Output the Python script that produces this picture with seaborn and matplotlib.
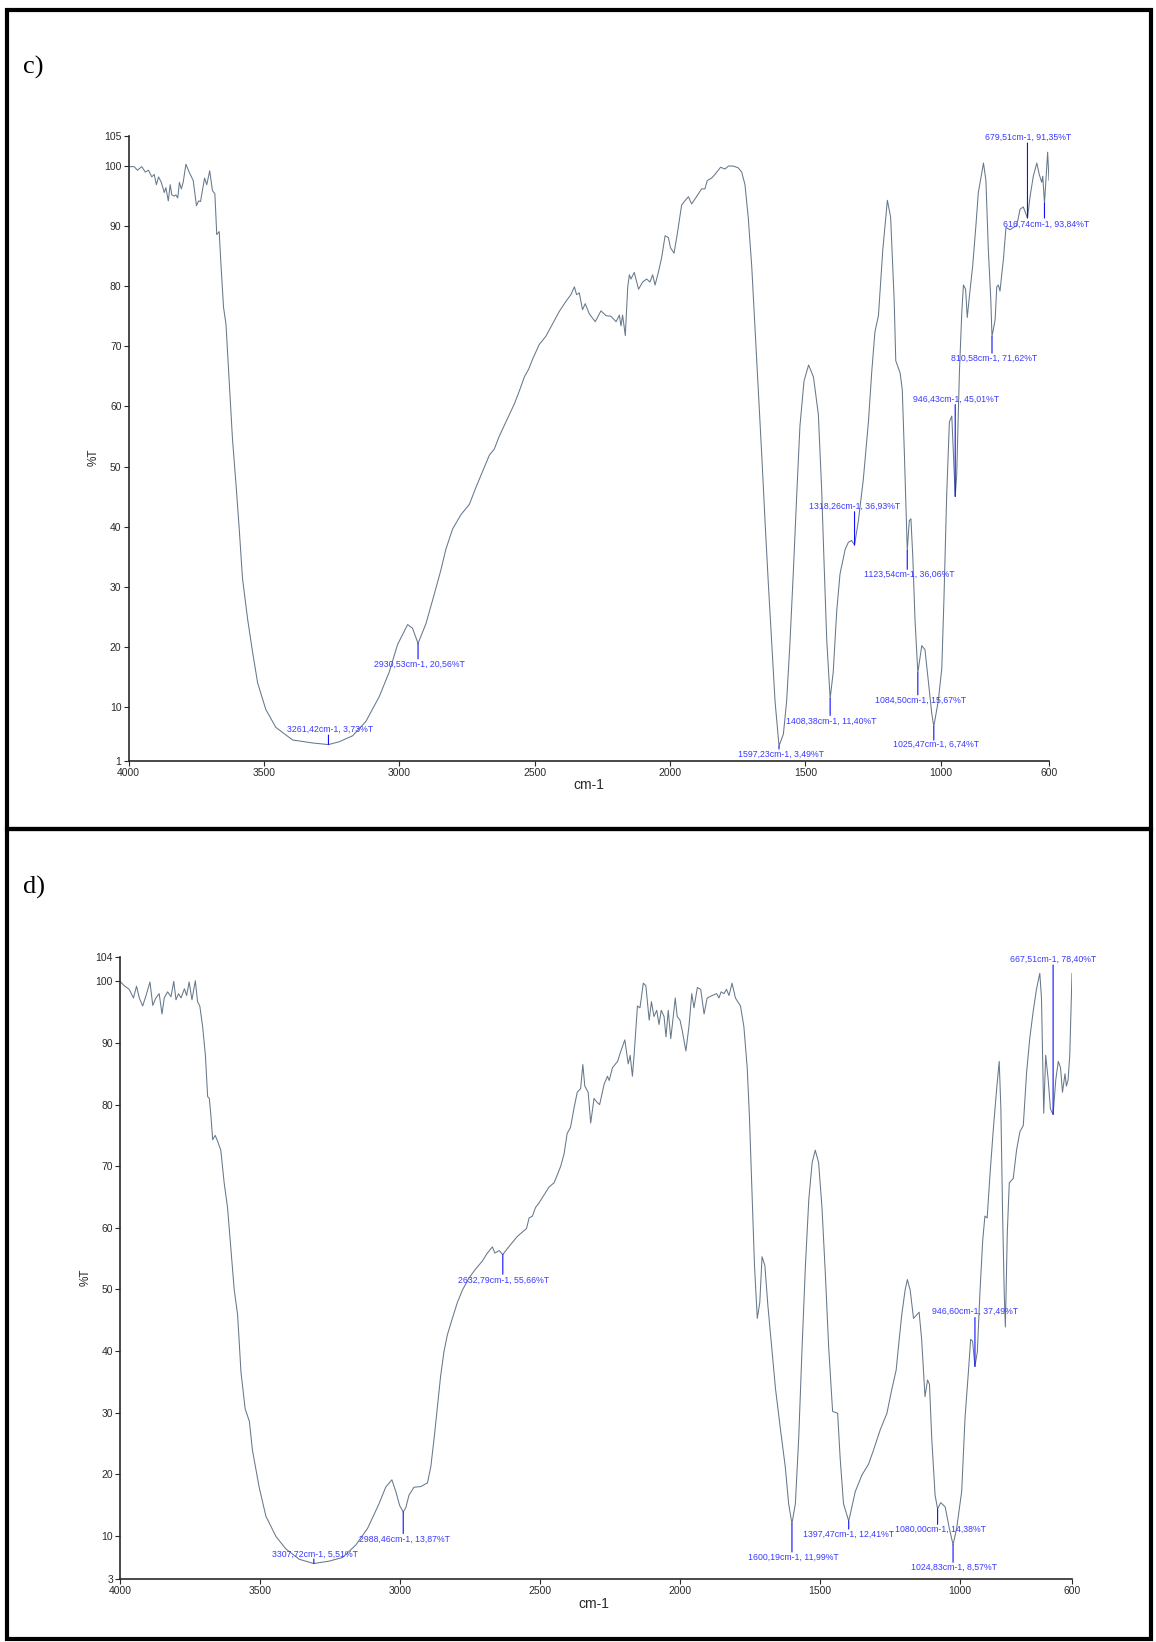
import matplotlib
matplotlib.use("Agg")
import matplotlib.pyplot as plt
from matplotlib.patches import Rectangle
import pandas as pd
import seaborn as sns

# ---------------- spectrum c) ----------------
wn_c = [4000, 3979, 3967, 3951, 3938, 3926, 3914, 3905, 3897, 3889, 3879, 3868, 3862, 3853,
        3846, 3840, 3831, 3825, 3818, 3812, 3805, 3798, 3788, 3776, 3761, 3749, 3741, 3734,
        3719, 3711, 3700, 3690, 3681, 3674, 3665, 3659, 3649, 3640, 3628, 3616, 3603, 3591,
        3579, 3560, 3542, 3523, 3493, 3456, 3394, 3320, 3261.42, 3222, 3172, 3123, 3074, 3037,
        3006, 2969, 2951, 2930.53, 2901, 2871, 2846, 2828, 2803, 2772, 2741, 2717, 2692, 2667,
        2649, 2631, 2600, 2575, 2557, 2538, 2522, 2507, 2483, 2458, 2434, 2409, 2384, 2366,
        2353, 2345, 2335, 2323, 2313, 2298, 2276, 2255, 2236, 2218, 2199, 2187, 2181, 2175,
        2165, 2156, 2150, 2144, 2132, 2116, 2101, 2086, 2074, 2064, 2055, 2043, 2031, 2018,
        2006, 1998, 1985, 1973, 1957, 1945, 1932, 1920, 1908, 1895, 1883, 1871, 1862, 1846,
        1834, 1813, 1797, 1784, 1766, 1748, 1735, 1723, 1711, 1698, 1686, 1674, 1661, 1649,
        1637, 1624, 1612, 1600, 1597.23, 1581, 1569, 1557, 1544, 1532, 1520, 1505, 1488, 1470,
        1452, 1440, 1431, 1421, 1408.38, 1397, 1384, 1372, 1353, 1341, 1329, 1318.26, 1304,
        1286, 1267, 1255, 1243, 1230, 1214, 1197, 1185, 1172, 1166, 1150, 1142, 1134, 1126,
        1123.54, 1116, 1110, 1103, 1095, 1084.50, 1070, 1058, 1046, 1033, 1025.47, 1009, 996,
        988, 978, 968, 959, 953, 946.43, 941, 931, 922, 916, 908, 902, 892, 882, 870, 861, 842,
        833, 824, 815, 810.58, 799, 793, 787, 781, 768, 759, 744, 731, 719, 707, 695, 679.51,
        670, 658, 645, 636, 627, 623, 616.74, 605, 600]
t_c = [99.9, 99.9, 99.3, 99.9, 99.0, 99.3, 98.2, 98.6, 96.9, 98.2, 97.3, 95.6, 96.4, 94.2,
       96.9, 95.2, 95.0, 95.2, 94.7, 97.3, 96.2, 97.3, 100.3, 99.0, 97.6, 93.4, 94.2, 94.1,
       98.0, 96.9, 99.2, 95.9, 95.4, 88.6, 89.1, 84.0, 76.5, 73.7, 64.2, 54.6, 47.1, 39.6,
       31.4, 24.6, 19.2, 14.0, 9.6, 6.6, 4.5, 4.0, 3.73, 4.2, 5.2, 7.6, 11.7, 15.8,
       20.4, 23.7, 23.1, 20.56, 23.9, 28.7, 32.8, 36.2, 39.6, 42.0, 43.7, 46.5, 49.2, 51.9,
       52.9, 55.0, 58.0, 60.4, 62.5, 64.9, 66.2, 67.9, 70.3, 71.7, 73.7, 75.8, 77.5, 78.6,
       79.9, 78.6, 78.9, 76.1, 77.1, 75.4, 74.1, 75.9, 75.1, 75.0, 74.1, 75.2, 73.4, 75.2,
       71.8, 79.9, 81.9, 81.2, 82.3, 79.5, 80.7, 81.2, 80.7, 81.9, 80.2, 82.3, 84.7, 88.4,
       88.1, 86.4, 85.5, 88.7, 93.5, 94.2, 94.9, 93.7, 94.5, 95.4, 96.2, 96.2, 97.6, 98.0,
       98.6, 99.8, 99.5, 100.0, 100.0, 99.7, 99.0, 96.9, 91.5, 83.3, 73.1, 62.8, 51.9, 41.0,
       30.8, 20.5, 11.0, 4.8, 3.49, 5.5, 11.0, 20.5, 32.8, 45.1, 56.7, 64.2, 66.9, 64.9,
       58.7, 46.5, 34.2, 21.2, 11.40, 15.8, 26.0, 32.1, 36.2, 37.4, 37.7, 36.93, 41.0,
       47.8, 57.4, 65.6, 72.4, 75.1, 86.0, 94.3, 91.5, 77.8, 67.6, 65.6, 62.8, 51.9, 39.6,
       36.06, 41.0, 41.3, 34.9, 24.6, 15.67, 20.2, 19.5, 14.4, 8.9, 6.74, 11.0, 16.4,
       28.0, 45.1, 57.4, 58.4, 51.9, 45.01, 48.5, 65.6, 75.8, 80.2, 79.5, 74.8, 79.2, 83.3,
       90.1, 95.6, 100.5, 97.6, 86.0, 77.8, 71.62, 74.4, 79.9, 80.2, 79.2, 84.7, 89.8, 89.4,
       89.8, 90.1, 92.8, 93.2, 91.35, 94.9, 98.3, 100.5, 98.6, 97.3, 98.3, 93.84, 102.3, 97.6]

peak_wn_c = [3261.42, 2930.53, 1597.23, 1408.38, 1318.26, 1123.54, 1084.50, 1025.47,
             946.43, 810.58, 679.51, 616.74]
peak_t_c = [3.73, 20.56, 3.49, 11.40, 36.93, 36.06, 15.67, 6.74, 45.01, 71.62, 91.35, 93.84]

# ---------------- spectrum d) ----------------
wn_d = [4000, 3985, 3967, 3952, 3941, 3931, 3919, 3907, 3893, 3883, 3872, 3860, 3850, 3842,
        3830, 3818, 3808, 3800, 3791, 3782, 3770, 3762, 3753, 3743, 3731, 3723, 3715, 3705,
        3695, 3687, 3681, 3675, 3669, 3660, 3651, 3640, 3628, 3616, 3604, 3592, 3580, 3568,
        3553, 3538, 3527, 3503, 3479, 3443, 3408, 3360, 3307.72, 3253, 3205, 3158, 3116, 3075,
        3051, 3029, 3015, 3001, 2988.46, 2979, 2968, 2950, 2926, 2902, 2890, 2878, 2866, 2855,
        2843, 2831, 2813, 2795, 2777, 2753, 2730, 2706, 2688, 2670, 2661, 2646, 2632.79, 2617,
        2599, 2581, 2563, 2548, 2539, 2527, 2516, 2504, 2486, 2468, 2450, 2438, 2426, 2414,
        2403, 2391, 2379, 2367, 2355, 2347, 2340, 2328, 2319, 2307, 2295, 2287, 2271, 2259,
        2253, 2241, 2223, 2211, 2197, 2185, 2178, 2170, 2164, 2152, 2143, 2131, 2122, 2110,
        2102, 2093, 2083, 2075, 2067, 2057, 2050, 2042, 2033, 2024, 2017, 2010, 2000, 1992,
        1979, 1968, 1958, 1950, 1938, 1926, 1914, 1903, 1885, 1869, 1861, 1853, 1843, 1834,
        1825, 1814, 1802, 1784, 1772, 1760, 1752, 1742, 1734, 1724, 1715, 1707, 1697, 1686,
        1675, 1659, 1641, 1624, 1612, 1600.19, 1588, 1576, 1564, 1552, 1540, 1528, 1517, 1505,
        1493, 1481, 1469, 1455, 1437, 1428, 1416, 1397.47, 1390, 1374, 1350, 1327, 1309, 1285,
        1261, 1243, 1228, 1220, 1208, 1196, 1188, 1178, 1166, 1154, 1146, 1137, 1125, 1116,
        1109, 1101, 1089, 1080.00, 1069, 1053, 1038, 1024.83, 1012, 994, 982, 970, 962, 955,
        946.60, 938, 929, 919, 911, 903, 893, 881, 869, 860, 854, 848, 842, 838, 831, 824, 810,
        798, 786, 774, 762, 751, 739, 727, 715, 709, 701, 694, 685, 677, 667.51, 658, 649, 641,
        634, 625, 620, 614, 608, 600]
t_d = [100.0, 99.3, 98.7, 97.3, 99.2, 97.3, 96.0, 97.7, 99.9, 96.1, 97.3, 98.0, 94.7, 97.3,
       98.3, 97.5, 100.0, 97.0, 98.0, 97.3, 98.8, 97.7, 99.9, 97.0, 100.1, 96.7, 96.0, 92.7,
       88.0, 81.3, 81.0, 78.0, 74.3, 75.0, 74.0, 72.6, 67.3, 63.3, 56.6, 49.9, 45.9, 36.6,
       30.6, 28.6, 23.9, 17.9, 13.2, 9.9, 7.9, 6.2, 5.51, 5.9, 6.5, 8.5, 11.2, 15.2,
       17.9, 19.1, 17.2, 14.9, 13.87, 14.6, 16.6, 17.9, 18.0, 18.6, 21.2, 25.9, 31.2, 35.9,
       39.9, 42.6, 45.3, 47.9, 49.9, 51.9, 53.3, 54.6, 55.9, 56.9, 55.9, 56.3, 55.66, 56.6,
       57.6, 58.6, 59.3, 59.9, 61.6, 61.9, 63.3, 64.0, 65.3, 66.6, 67.3, 68.6, 70.0, 72.0,
       75.3, 76.3, 79.3, 82.0, 82.6, 86.5, 83.0, 82.0, 77.0, 81.0, 80.3, 80.0, 83.3, 84.6,
       83.9, 86.0, 87.0, 88.7, 90.5, 86.6, 88.0, 84.6, 88.0, 96.0, 95.7, 99.7, 99.3, 93.7,
       96.7, 94.3, 95.3, 93.0, 95.3, 94.3, 91.0, 95.3, 90.7, 94.3, 97.3, 94.3, 93.7, 92.0,
       88.7, 92.7, 98.0, 95.7, 99.0, 98.7, 94.7, 97.3, 97.7, 98.0, 97.3, 98.3, 98.0, 98.7,
       97.7, 99.7, 97.3, 96.0, 92.7, 86.0, 78.0, 64.6, 53.9, 45.3, 47.9, 55.3, 53.9, 47.3,
       41.9, 33.9, 27.2, 21.2, 15.2, 11.99, 15.2, 25.9, 40.6, 53.9, 64.6, 70.6, 72.6, 70.6,
       63.3, 52.6, 40.6, 30.2, 29.9, 22.6, 15.2, 12.41, 13.9, 17.2, 19.9, 21.6, 23.9, 27.2,
       29.9, 33.9, 36.9, 40.6, 45.9, 49.9, 51.6, 49.9, 45.3, 45.9, 46.3, 41.9, 32.6, 35.3,
       34.6, 25.9, 16.6, 14.38, 15.4, 14.7, 11.2, 8.57, 11.2, 17.2, 29.2, 36.6, 41.9, 41.6,
       37.49, 39.9, 49.3, 57.9, 61.9, 61.6, 68.6, 76.0, 82.6, 87.0, 79.3, 62.6, 49.3, 43.9,
       59.3, 67.3, 68.0, 72.6, 75.6, 76.6, 85.3, 90.7, 95.0, 98.7, 101.3, 97.3, 78.6, 88.0,
       84.0, 79.3, 78.40, 84.0, 87.0, 86.0, 82.0, 85.0, 83.0, 84.0, 88.0, 101.3]

peak_wn_d = [3307.72, 2988.46, 2632.79, 1600.19, 1397.47, 1080.00, 1024.83, 946.60, 667.51]
peak_t_d = [5.51, 13.87, 55.66, 11.99, 12.41, 14.38, 8.57, 37.49, 78.40]

x_ticks = [4000, 3500, 3000, 2500, 2000, 1500, 1000, 600]
y_ticks_c = [1, 10, 20, 30, 40, 50, 60, 70, 80, 90, 100, 105]
y_ticks_d = [3, 10, 20, 30, 40, 50, 60, 70, 80, 90, 100, 104]

# label placement for the peak picks, in pixels (dx_text, dy_text, dy_line), y pointing down
layout_c = [(2, -15.5, -9.5), (1.5, 20.5, 15.5), (2, 7.8, 3), (1, 22.4, 17), (0.5, -39, -33.4),
            (2, 24.3, 19), (2.5, 27, 22), (2, 18.3, 13.6), (1, -96.8, -92), (2, 21.8, 16.5),
            (0.5, -81, -75), (1.5, 20.8, 15)]
layout_d = [(1, -9.5, -4.5), (1, 27.6, 21.5), (1, 26, 19.7), (1, 33.7, 28.4), (-0.5, 13.7, 8),
            (3, 20, 15.5), (1, 22.5, 17.6), (0, -55, -49), (0, -155, -149.4)]

# ---------------- styling ----------------
sns.set_theme(style="ticks")
plt.rcParams['font.family'] = ['Liberation Sans Narrow', 'Liberation Sans', 'DejaVu Sans']

W, H = 1156, 1642
fig = plt.figure(figsize=(W / 100, H / 100), dpi=100)
fig.patch.set_facecolor('white')

SPEC_COLOR = '#66788a'
PEAK_TEXT = '#3a3aff'
PEAK_LINE = '#1010ff'
AX_COLOR = '#2a2a2a'


def rect(x0, y0, x1, y1):
    return [x0 / W, 1 - y1 / H, (x1 - x0) / W, (y1 - y0) / H]


def fmt(v):
    return f"{v:.2f}".replace('.', ',')


def draw_panel(ax, wn, t, pwn, pt, lay, yticks, ylim, xlab_pos, ylab_pos):
    df = pd.DataFrame({'wn': wn, 'T': t})
    sns.lineplot(data=df, x='wn', y='T', sort=False, ax=ax, color=SPEC_COLOR,
                 linewidth=0.75, zorder=2)
    ax.set_xlim(4000, 600)
    ax.set_ylim(*ylim)
    ax.set_xticks(x_ticks)
    ax.set_xticklabels([str(v) for v in x_ticks])
    ax.set_yticks(yticks)
    ax.set_yticklabels([str(v) for v in yticks])
    ax.set_facecolor('none')
    for side in ('top', 'right'):
        ax.spines[side].set_visible(False)
    for side in ('left', 'bottom'):
        ax.spines[side].set_color(AX_COLOR)
        ax.spines[side].set_linewidth(1.2)
    ax.tick_params(axis='both', direction='out', length=3.5, width=0.8, pad=1.5,
                   labelsize=7.5, colors=AX_COLOR)
    ax.set_xlabel('cm-1', fontsize=10, color=AX_COLOR)
    ax.xaxis.set_label_coords(*xlab_pos)
    ax.xaxis.label.set_va('center')
    ax.set_ylabel('%T', fontsize=8.5, color=AX_COLOR)
    ax.yaxis.set_label_coords(*ylab_pos)
    ax.yaxis.label.set_va('center')
    for w, v, (dx, dy, dl) in zip(pwn, pt, lay):
        ax.annotate('', xy=(w, v), xytext=(0, -dl), textcoords='offset pixels',
                    arrowprops=dict(arrowstyle='-', color=PEAK_LINE, lw=0.8,
                                    shrinkA=0, shrinkB=0), zorder=3)
        ax.annotate(f"{fmt(w)}cm-1, {fmt(v)}%T", xy=(w, v), xytext=(dx, -dy),
                    textcoords='offset pixels', ha='center', va='center',
                    fontsize=6.3, color=PEAK_TEXT, zorder=4,
                    annotation_clip=False)


ax_c = fig.add_axes(rect(128.5, 136, 1049, 761))
draw_panel(ax_c, wn_c, t_c, peak_wn_c, peak_t_c, layout_c, y_ticks_c, (1, 105),
           (0.5003, -0.0384), (-0.0375, 0.4854))

ax_d = fig.add_axes(rect(120, 956.7, 1072, 1579))
draw_panel(ax_d, wn_d, t_d, peak_wn_d, peak_t_d, layout_d, y_ticks_d, (3, 104),
           (0.498, -0.0402), (-0.0357, 0.4845))

# panel letters
fig.text(23 / W, 1 - 67 / H, 'c)', family='Liberation Serif', fontsize=19,
         ha='left', va='center', color='black')
fig.text(23 / W, 1 - 887 / H, 'd)', family='Liberation Serif', fontsize=19,
         ha='left', va='center', color='black')

# frames around the two panels
for (x0, y0, x1, y1) in [(7, 10, 1151, 829), (7, 829, 1151, 1639)]:
    fig.add_artist(Rectangle((x0 / W, 1 - y1 / H), (x1 - x0) / W, (y1 - y0) / H,
                             transform=fig.transFigure, fill=False,
                             edgecolor='black', linewidth=3, zorder=10))

fig.savefig('out.png', dpi=100, facecolor='white')
